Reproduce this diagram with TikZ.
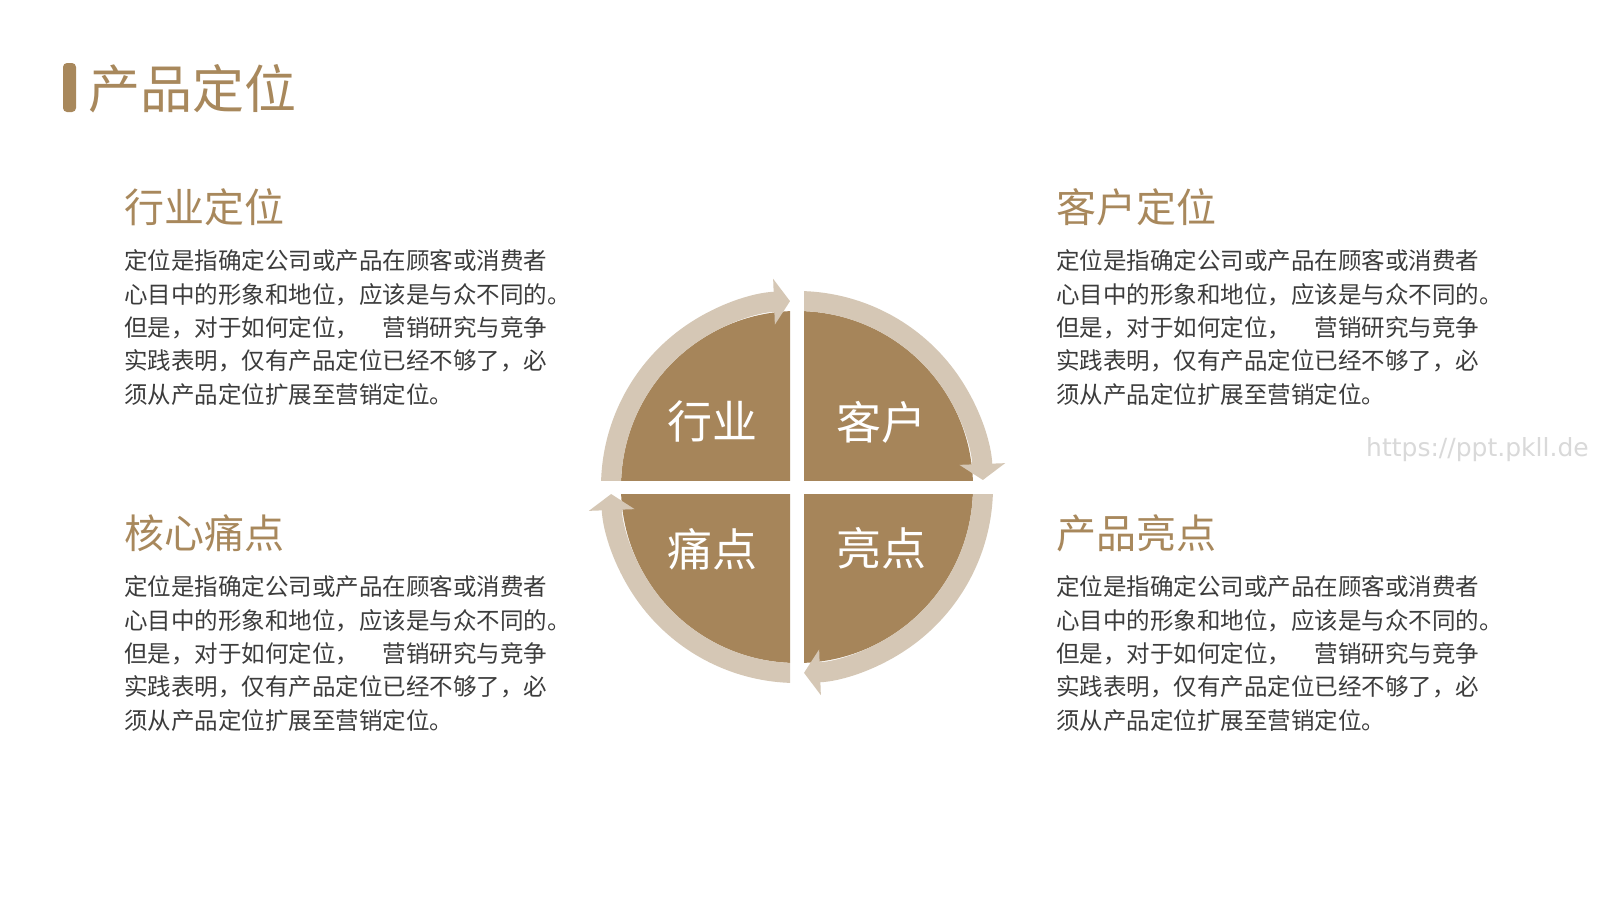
\documentclass[tikz,border=0pt]{standalone}
\usepackage{fontspec}
\usepackage{tikz}
\usetikzlibrary{arrows.meta}
\setmainfont{Noto Sans CJK SC}
\newfontfamily\urlfont{DejaVu Sans}
\definecolor{gold}{HTML}{A8885C}
\definecolor{quadbrown}{HTML}{A6855A}
\definecolor{ringbeige}{HTML}{D5C7B5}
\definecolor{bodygray}{HTML}{3C3C3C}
\tikzset{
    heading/.style={font=\fontsize{40}{44}\selectfont, text=gold, anchor=west, inner sep=0pt},
    body/.style={font=\fontsize{23.5}{28}\selectfont, text=bodygray, anchor=west, inner sep=0pt},
    quadlabel/.style={font=\fontsize{45}{50}\selectfont, text=white, inner sep=0pt},
    ring/.style={ringbeige, line width=20pt, -{Triangle[width=45pt,length=16pt]}}
}
\newcommand{\desclines}{定位是指确定公司或产品在顾客或消费者,心目中的形象和地位，应该是与众不同的。,但是，对于如何定位，　营销研究与竞争,实践表明，仅有产品定位已经不够了，必,须从产品定位扩展至营销定位。}

\begin{document}
\begin{tikzpicture}[x=1pt, y=-1pt]
    \fill[white] (0,0) rectangle (1600,900);
    \useasboundingbox (0,0) rectangle (1600,900);
    % title
    \fill[gold, rounded corners=4pt] (63,63) rectangle (76,112);
    \node[font=\fontsize{52}{56}\selectfont, text=gold, anchor=west, inner sep=0pt] (title) at (88,89) {产品定位};
    % four text blocks
    \foreach \px/\py/\head/\nm in {124/207/行业定位/hangye, 1056/207/客户定位/kehu, 124/533/核心痛点/tongdian, 1056/533/产品亮点/liangdian}{
        \node[heading] (\nm) at (\px,\py) {\head};
        \foreach \t [count=\i] in \desclines
            \node[body] (\nm-\i) at (\px,\py+54+33.4*\i-33.4) {\t};
    }
    % circle of four quadrants
    \coordinate (c) at (797,487);
    \foreach \sx/\sy/\a in {-1/-1/180, 1/-1/270, 1/1/360, -1/1/450}{
        \begin{scope}
            \clip (797+7*\sx,487+7*\sy) rectangle (797+240*\sx,487+240*\sy);
            \fill[quadbrown] (c) circle[radius=176];
            \draw[ring] (c) ++(\a-5:186) arc[start angle=\a-5, end angle=\a+87.84, radius=186];
        \end{scope}
    }
    \foreach \lx/\ly/\lab/\nm in {712/421/行业/qhangye, 881/422/客户/qkehu, 712/549/痛点/qtongdian, 881/548/亮点/qliangdian}
        \node[quadlabel] (\nm) at (\lx,\ly) {\lab};
    % watermark
    \node[font=\urlfont\fontsize{25}{28}\selectfont, text=black!15, anchor=base west, inner sep=0pt] (url) at (1366,456) {https://ppt.pkll.de};
\end{tikzpicture}
\end{document}
